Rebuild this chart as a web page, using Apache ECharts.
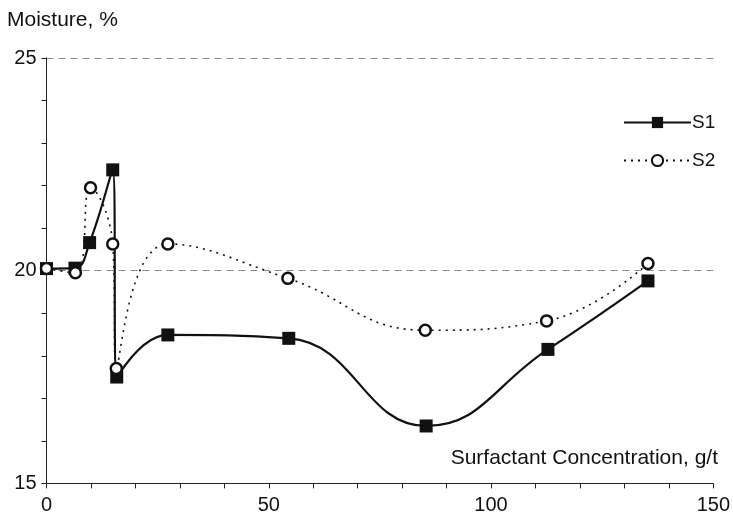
<!DOCTYPE html>
<html>
<head>
<meta charset="utf-8">
<script src="https://cdn.jsdelivr.net/npm/echarts@6/dist/echarts.min.js"></script>
<style>
  html, body { margin: 0; padding: 0; background: #fff; }
  #main { width: 733px; height: 517px; }
</style>
</head>
<body>
<div id="main"></div>
<script type="text/javascript">
	// surfactant concentration, g/t
	var s1_x = [0, 6.4, 9.7, 14.9, 15.8, 27.3, 54.5, 85.4, 112.8, 135.3];
	var s1_y = [20.05, 20.06, 20.66, 22.37, 17.5, 18.49, 18.41, 16.35, 18.15, 19.76];
	var s2_x = [0, 6.5, 9.9, 14.9, 15.7, 27.3, 54.3, 85.2, 112.5, 135.3];
	var s2_y = [20.05, 19.95, 21.95, 20.63, 17.7, 20.63, 19.82, 18.6, 18.82, 20.17];

	function pairs(xs, ys){
		var out = [];
		for (var i = 0; i < xs.length; i++) out.push([xs[i], ys[i]]);
		return out;
	}

	var font = 'Liberation Sans, Arial, sans-serif';
	var chart = echarts.init(document.getElementById('main'));
	chart.setOption({
		animation: false,
		backgroundColor: '#fff',
		grid: { left: 46.5, right: 15, top: 58, bottom: 33.6 },
		legend: {
			orient: 'vertical',
			left: 618, top: 108,
			itemWidth: 67, itemHeight: 14, itemGap: 19,
			textStyle: { fontFamily: font, fontSize: 19, color: '#111', padding: [0, 0, 0, -4] },
			data: ['S1', 'S2']
		},
		graphic: [
			{ type: 'text', left: 7, top: 10, style: { text: 'Moisture, %', font: '21px ' + font, fill: '#111' } },
			{ type: 'text', right: 15, top: 448, style: { text: 'Surfactant Concentration, g/t', font: '21px ' + font, fill: '#111' } }
		],
		xAxis: {
			type: 'value', min: 0, max: 150, interval: 50,
			axisLine: { lineStyle: { color: '#222', width: 1 } },
			axisTick: { show: true, length: 5, lineStyle: { color: '#222' } },
			minorTick: { show: true, splitNumber: 5, length: 5, lineStyle: { color: '#222' } },
			axisLabel: { fontFamily: font, fontSize: 20, color: '#111', margin: 12 },
			splitLine: { show: false }
		},
		yAxis: {
			type: 'value', min: 15, max: 25, interval: 5,
			axisLine: { show: true, lineStyle: { color: '#222', width: 1 } },
			axisTick: { show: true, length: 5, lineStyle: { color: '#222' } },
			minorTick: { show: true, splitNumber: 5, length: 5, lineStyle: { color: '#222' } },
			axisLabel: { fontFamily: font, fontSize: 20, color: '#111', margin: 10 },
			splitLine: { show: true, lineStyle: { color: '#888', type: [7, 5], width: 1 } }
		},
		series: [
			{
				name: 'S1', type: 'line', smooth: 0.45,
				symbol: 'rect', symbolSize: 13,
				itemStyle: { color: '#111' },
				lineStyle: { color: '#111', width: 2.2 },
				data: pairs(s1_x, s1_y),
				z: 3
			},
			{
				name: 'S2', type: 'line', smooth: 0.45,
				symbol: 'circle', symbolSize: 11,
				itemStyle: { color: '#fff', borderColor: '#111', borderWidth: 2.5 },
				lineStyle: { color: '#111', width: 1.6, type: [2, 5] },
				data: pairs(s2_x, s2_y),
				z: 4
			}
		]
	});
</script>
</body>
</html>
